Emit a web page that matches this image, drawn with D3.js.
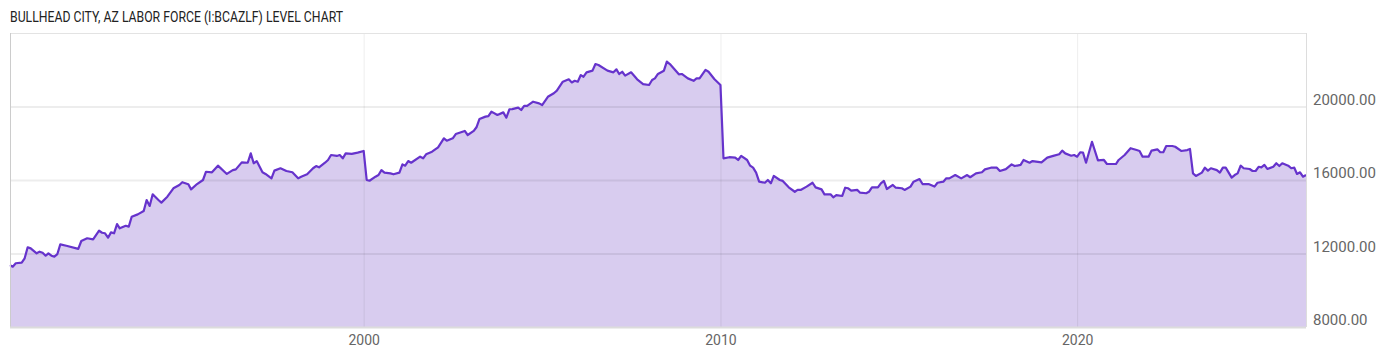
<!DOCTYPE html>
<html>
<head>
<meta charset="utf-8">
<script src="https://cdn.jsdelivr.net/npm/d3@7"></script>
<style>
  body { margin: 0; background: #fff; }
  svg { display: block; font-family: Roboto, "Noto Sans", sans-serif; }
  .grid line { stroke: rgba(0,0,0,0.07); }
  .grid path { display: none; }
  .axis path { display: none; }
  .axis text { fill: #666; }
</style>
</head>
<body>
<svg id="chart"></svg>
<script>
// monthly labor force
var months = [
  "1990-02","1990-03","1990-04","1990-06","1990-07","1990-08","1990-09","1990-11","1990-12",
  "1991-01","1991-02","1991-03","1991-04","1991-05","1991-06","1991-07","1991-09",
  "1992-01","1992-02","1992-04","1992-06","1992-08","1992-09","1992-10","1992-11","1992-12",
  "1993-01","1993-02","1993-03","1993-05","1993-06","1993-07","1993-09","1993-11","1993-12",
  "1994-01","1994-02","1994-04","1994-05","1994-07","1994-09","1994-11","1994-12",
  "1995-02","1995-03","1995-05","1995-07","1995-08","1995-10","1995-12",
  "1996-03","1996-05","1996-06","1996-08","1996-10","1996-11","1996-12",
  "1997-01","1997-03","1997-04","1997-06","1997-07","1997-09","1997-11",
  "1998-01","1998-03","1998-04","1998-06","1998-08","1998-09","1998-10","1998-12",
  "1999-01","1999-02","1999-04","1999-05","1999-06","1999-07","1999-09","1999-11",
  "2000-01","2000-02","2000-03","2000-05","2000-06","2000-07","2000-08","2000-10","2000-11",
  "2001-01","2001-02","2001-03","2001-04","2001-05","2001-08","2001-09","2001-10","2001-12",
  "2002-02","2002-04","2002-05","2002-07","2002-08","2002-11","2002-12",
  "2003-02","2003-03","2003-04","2003-06","2003-07","2003-08","2003-10","2003-12",
  "2004-01","2004-02","2004-03","2004-05","2004-06","2004-07","2004-08","2004-10","2004-12",
  "2005-01","2005-03","2005-05","2005-06","2005-08","2005-10","2005-11","2005-12",
  "2006-01","2006-02","2006-03","2006-04","2006-06","2006-07","2006-08","2006-11",
  "2007-01","2007-02","2007-03","2007-04","2007-05","2007-07","2007-09","2007-11",
  "2008-01","2008-02","2008-03","2008-04","2008-06","2008-07","2008-08","2008-11","2008-12",
  "2009-02","2009-04","2009-05","2009-06","2009-08","2009-09","2009-11",
  "2010-01","2010-02","2010-04","2010-06","2010-07","2010-08","2010-10","2010-11","2010-12",
  "2011-01","2011-02","2011-04","2011-05","2011-06","2011-07","2011-09","2011-10","2011-12",
  "2012-02","2012-03","2012-04","2012-06","2012-08","2012-09","2012-11","2012-12",
  "2013-02","2013-03","2013-04","2013-06","2013-07","2013-08","2013-09","2013-11","2013-12",
  "2014-02","2014-03","2014-04","2014-06","2014-07","2014-08","2014-09","2014-11","2014-12",
  "2015-02","2015-03","2015-05","2015-06","2015-08","2015-09","2015-11",
  "2016-01","2016-02","2016-04","2016-05","2016-06","2016-08","2016-10","2016-12",
  "2017-01","2017-03","2017-05","2017-06","2017-08","2017-10","2017-11",
  "2018-01","2018-03","2018-04","2018-06","2018-07","2018-09","2018-10",
  "2019-01","2019-03","2019-05","2019-07","2019-08","2019-09","2019-11","2019-12",
  "2020-01","2020-02","2020-03","2020-04","2020-06","2020-08","2020-10","2020-11",
  "2021-02","2021-03","2021-05","2021-07","2021-09","2021-10","2021-11",
  "2022-01","2022-02","2022-04","2022-05","2022-06","2022-07","2022-09","2022-10","2022-12",
  "2023-02","2023-03","2023-04","2023-05","2023-07","2023-08","2023-09","2023-10","2023-12",
  "2024-01","2024-02","2024-03","2024-05","2024-06","2024-07","2024-08","2024-09","2024-11","2024-12",
  "2025-01","2025-02","2025-03","2025-04","2025-05","2025-07","2025-08","2025-09","2025-10","2025-12",
  "2026-01","2026-02","2026-03","2026-04","2026-05","2026-06"
];

var laborForce = [
  11370,11280,11470,11500,11740,12340,12280,12010,12100,
  12040,11880,12010,11880,11830,11970,12500,12420,
  12250,12680,12830,12770,13240,13130,13100,12860,13150,
  13100,13600,13370,13510,13460,14000,14130,14310,14910,
  14590,15220,14910,14770,15090,15550,15730,15880,
  15770,15490,15780,16000,16450,16420,16780,
  16330,16540,16580,16960,16940,17450,16910,
  17030,16420,16330,16090,16510,16640,16490,
  16420,16090,16180,16310,16640,16760,16690,16940,
  17090,17360,17310,17360,17180,17450,17420,17490,
  17580,16000,15960,16180,16270,16540,16400,16360,16310,
  16400,16850,16780,17030,16940,17270,17180,17400,17540,
  17780,18270,18140,18270,18500,18670,18450,
  18670,18870,19320,19450,19480,19720,19540,19680,
  19390,19850,19860,19940,19810,20030,20030,20260,20170,
  20080,20530,20720,20860,21350,21480,21310,21400,
  21350,21710,21620,21860,21950,22310,22260,21950,
  21860,22020,21770,21890,21680,21860,21480,21220,
  21170,21440,21530,21770,21950,22440,22310,21750,21770,
  21530,21400,21530,21530,21990,21890,21480,
  21170,17180,17240,17220,17090,17310,17090,16780,16670,
  16400,15910,15850,16000,15820,16220,16000,15950,15600,
  15360,15460,15460,15640,15850,15600,15490,15220,
  15220,15060,15180,15130,15580,15550,15420,15460,15310,
  15280,15360,15600,15600,15820,15950,15510,15730,15580,
  15550,15460,15640,15910,16050,15780,15780,
  15640,15850,15910,16090,16090,16270,16090,16270,
  16150,16360,16420,16580,16670,16670,16490,
  16590,16850,16760,16820,17090,16940,17030,
  16960,17220,17310,17400,17600,17450,17320,17360,
  17270,17510,17490,16940,18080,17070,17090,16870,
  16870,17090,17360,17730,17630,17580,17270,
  17270,17600,17670,17510,17510,17850,17850,17810,17580,
  17630,17690,16360,16220,16400,16670,16510,16640,16540,
  16400,16670,16670,16130,16270,16360,16780,16640,16600,16490,
  16490,16720,16690,16820,16600,16720,16910,16760,16910,16780,
  16640,16670,16330,16420,16180,16270
];

var yTicks = [8000, 12000, 16000, 20000];
var xTickYears = [2000, 2010, 2020];
var title = "BULLHEAD CITY, AZ LABOR FORCE (I:BCAZLF) LEVEL CHART";

var parseMonth = d3.timeParse("%Y-%m");
var data = months.map(function(m, i) {
    return {date: parseMonth(m), value: laborForce[i]};
});

var W = 1400, H = 357;
var margin = {top: 33, right: 94, bottom: 30, left: 10},
    width = W - margin.left - margin.right,
    height = H - margin.top - margin.bottom;

var svg = d3.select("#chart")
    .attr("width", W)
    .attr("height", H);

// title
svg.append("text")
    .attr("x", 10)
    .attr("y", 22)
    .attr("font-size", 15)
    .attr("fill", "#222")
    .attr("textLength", 333)
    .attr("lengthAdjust", "spacingAndGlyphs")
    .text(title);

var g = svg.append("g")
    .attr("transform", "translate(" + margin.left + "," + margin.top + ")");

var x = d3.scaleTime()
    .domain(d3.extent(data, function(d) { return d.date; }))
    .range([0, width]);
var y = d3.scaleLinear()
    .domain([8000, 24000])
    .range([height, 0]);

// area + line
var area = d3.area()
    .x(function(d) { return x(d.date); })
    .y0(height)
    .y1(function(d) { return y(d.value); });
var line = d3.line()
    .x(function(d) { return x(d.date); })
    .y(function(d) { return y(d.value); });

g.append("path")
    .datum(data)
    .attr("fill", "#d8ccef")
    .attr("d", area);

// gridlines on top of the fill
g.append("g")
    .attr("class", "grid")
    .call(d3.axisLeft(y)
        .tickValues(yTicks.slice(1))
        .tickSize(-width)
        .tickFormat(""))
    .selectAll("line").attr("stroke-width", 2);

g.append("g")
    .attr("class", "grid")
    .attr("transform", "translate(0," + height + ")")
    .call(d3.axisBottom(x)
        .tickValues(xTickYears.map(function(yr) { return new Date(yr, 0, 1); }))
        .tickSize(-height)
        .tickFormat(""))
    .selectAll("line").attr("stroke", "rgba(0,0,0,0.1)");

g.append("path")
    .datum(data)
    .attr("fill", "none")
    .attr("stroke", "#6633cc")
    .attr("stroke-width", 2.2)
    .attr("stroke-linejoin", "round")
    .attr("d", line);

// frame
g.append("line").attr("x1", 0).attr("x2", width).attr("y1", 0.5).attr("y2", 0.5)
    .attr("stroke", "#e3e3e3");
g.append("line").attr("x1", width + 0.5).attr("x2", width + 0.5).attr("y1", 0).attr("y2", height)
    .attr("stroke", "#dddddd");
g.append("line").attr("x1", 0.5).attr("x2", 0.5).attr("y1", 0).attr("y2", height)
    .attr("stroke", "#cccccc");
g.append("line").attr("x1", 0).attr("x2", width).attr("y1", height + 0.5).attr("y2", height + 0.5)
    .attr("stroke", "#dcdcdc").attr("stroke-width", 2);

// right axis
var yAxis = g.append("g")
    .attr("class", "axis")
    .attr("transform", "translate(" + width + ",0)")
    .call(d3.axisRight(y)
        .tickValues(yTicks)
        .tickSize(0)
        .tickPadding(7)
        .tickFormat(d3.format(".2f")));
yAxis.selectAll("text")
    .attr("font-size", 15)
    .attr("font-family", "Roboto, sans-serif")
    .attr("y", -7);

// bottom axis
var xAxis = g.append("g")
    .attr("class", "axis")
    .attr("transform", "translate(0," + height + ")")
    .call(d3.axisBottom(x)
        .tickValues(xTickYears.map(function(yr) { return new Date(yr, 0, 1); }))
        .tickSize(0)
        .tickPadding(8)
        .tickFormat(d3.timeFormat("%Y")));
xAxis.selectAll("text")
    .attr("font-size", 14)
    .attr("font-family", "Roboto, sans-serif");
</script>
</body>
</html>
